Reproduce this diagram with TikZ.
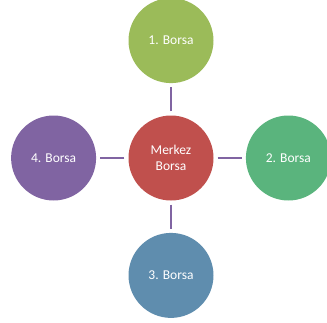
\documentclass[tikz,border=0pt]{standalone}
\usepackage{fontspec}
\setmainfont{Carlito}
\usepackage{tikz}
\usetikzlibrary{positioning}
\definecolor{hubred}{HTML}{C0504D}
\definecolor{olivegreen}{HTML}{9BBB59}
\definecolor{seagreen}{HTML}{5AB47D}
\definecolor{steelblue}{HTML}{5F8DAE}
\definecolor{plumpurple}{HTML}{8064A2}
\tikzstyle{borsa} = [circle, minimum size=85pt, inner sep=0pt, text=white, align=center, font=\fontsize{13.5}{16}\selectfont]
\tikzstyle{link} = [draw=plumpurple, line width=2.6pt, shorten >=4pt, shorten <=4pt]

\begin{document}
\begin{tikzpicture}[x=1pt, y=1pt, node distance=32pt]
\useasboundingbox (0,0) rectangle (327,-322);

\node (hub) [borsa, fill=hubred] at (171,-158) {Merkez\\Borsa};
\node (top) [borsa, fill=olivegreen, above=of hub] {1. Borsa};
\node (right) [borsa, fill=seagreen, right=of hub] {2. Borsa};
\node (bottom) [borsa, fill=steelblue, below=of hub] {3. Borsa};
\node (left) [borsa, fill=plumpurple, left=of hub] {4. Borsa};

\draw[link] (hub) -- (top);
\draw[link] (hub) -- (right);
\draw[link] (hub) -- (bottom);
\draw[link] (hub) -- (left);

\end{tikzpicture}
\end{document}
